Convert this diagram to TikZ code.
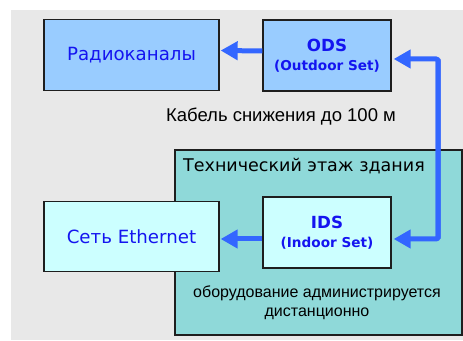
\documentclass[tikz,border=0pt]{standalone}
\usepackage{fontspec}
\setmainfont{Liberation Sans}
\newfontfamily\verd{DejaVu Sans}
\usetikzlibrary{arrows.meta}
\definecolor{bggray}{RGB}{232,232,232}
\definecolor{lblue}{RGB}{153,204,255}
\definecolor{lcyan}{RGB}{204,255,255}
\definecolor{teal2}{RGB}{143,217,217}
\definecolor{txtblue}{RGB}{20,20,240}
\definecolor{arrblue}{RGB}{51,102,255}
\definecolor{bord}{RGB}{30,30,30}
\tikzset{
  unit/.style={draw=bord, line width=1.3pt, inner sep=0pt, text=txtblue, align=center},
  setbox/.style={unit, minimum width=128pt, minimum height=71pt, font=\verd\bfseries\fontsize{13.6}{19.5}\selectfont},
  conn/.style={draw=arrblue, line width=5pt, -{Triangle[length=17pt,width=18pt]}},
}
\begin{document}
\begin{tikzpicture}[x=1pt,y=1pt]
\useasboundingbox (0,0) rectangle (463,340);
\fill[bggray] (11,0) rectangle (463,330);
\node[draw=bord, line width=1.3pt, fill=teal2, minimum width=287pt, minimum height=185pt, inner sep=0pt] (floor) at (318.5,97.5) {};
\node[unit, fill=lblue, minimum width=175pt, minimum height=71pt, font=\verd\fontsize{18.2}{21}\selectfont] (radio) at (131.5,285) {Радиоканалы};
\node[setbox, fill=lblue] (ods) at (327,284.5) {{\fontsize{16.7}{19.5}\selectfont ODS}\\(Outdoor Set)};
\node[unit, fill=lcyan, minimum width=175pt, minimum height=70pt, font=\verd\fontsize{18.2}{21}\selectfont] (eth) at (131.5,103.5) {Сеть Ethernet};
\node[setbox, fill=lcyan] (ids) at (327,107.5) {{\fontsize{16.7}{19.5}\selectfont IDS}\\(Indoor Set)};
\node[font=\fontsize{18.5}{21}\selectfont] (cable) at (281,223) {Кабель снижения до 100 м};
\node[anchor=west, inner sep=0pt, font=\verd\fontsize{17.5}{21}\selectfont] (tech) at (183,174) {Технический этаж здания};
\node[align=center, font=\fontsize{16}{19}\selectfont] (note) at (317,37.5) {оборудование администрируется\\дистанционно};
\coordinate (c1) at (438,281);
\coordinate (c2) at (438,101);
\draw[conn] ([yshift=4.5pt]ods.west) -- ([xshift=1pt,yshift=4.5pt]radio.east);
\draw[conn] ([yshift=-6.5pt]ids.west) -- ([xshift=1pt]eth.east |- 0,101);
\draw[conn, rounded corners=2pt] (c2) -- (c1) -- ([xshift=2pt,yshift=-3.5pt]ods.east);
\draw[conn, rounded corners=2pt] (c1) -- (c2) -- ([xshift=2pt,yshift=-6.5pt]ids.east);
\end{tikzpicture}
\end{document}
